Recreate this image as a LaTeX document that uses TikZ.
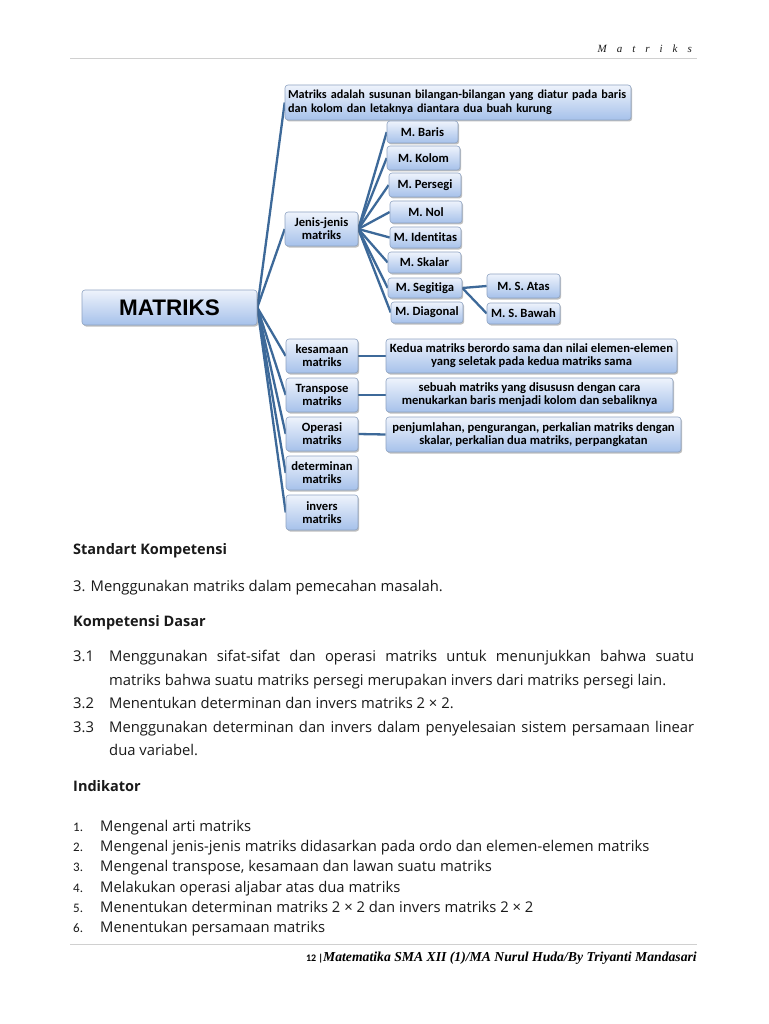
\documentclass[tikz,border=0pt]{standalone}
\usepackage{fontspec}
\setmainfont{Carlito}
\newfontfamily\calib[Ligatures=NoCommon]{Carlito}
\newfontfamily\bodyf{Open Sans}
\newfontfamily\arialf{Liberation Sans}
\newfontfamily\scriptf{Liberation Serif}
\usetikzlibrary{shadows,backgrounds}
\definecolor{boxtop}{HTML}{EEF3FC}
\definecolor{boxbot}{HTML}{A6C1EA}
\definecolor{boxline}{HTML}{8EA3C2}
\definecolor{linec}{HTML}{3D6999}
\definecolor{rulec}{HTML}{D0D0D0}
\definecolor{textc}{HTML}{1A1A1A}
\begin{document}
\begin{tikzpicture}[x=1pt,y=-1pt,
  mm/.style={draw=boxline, line width=0.6pt, rounded corners=3pt,
    top color=boxtop, bottom color=boxbot,
    drop shadow={shadow xshift=1.2pt, shadow yshift=-1.5pt, fill=black, opacity=0.25},
    inner sep=1pt, align=center, text=black,
    font=\calib\bfseries\fontsize{12.6}{13}\selectfont},
  conn/.style={draw=linec, line width=2.3pt},
  body/.style={inner sep=0pt, text=textc, font=\bodyf\fontsize{14.8}{16}\selectfont},
  hd/.style={body, font=\bodyf\bfseries\fontsize{14.5}{16}\selectfont}
]
\useasboundingbox (0,0) rectangle (768,1024);

% header and footer
\draw[rulec, line width=0.8pt] (70,58) -- (697,58);
\node[anchor=base east, inner sep=0pt, text=textc] (hdr) at (692,53)
  {\scriptf\itshape\fontsize{11}{12}\selectfont M\hspace{10pt}a\hspace{10pt}t\hspace{10pt}r\hspace{10pt}i\hspace{10pt}k\hspace{10pt}s};
\draw[rulec, line width=0.8pt] (70,944) -- (697,944);
\node[anchor=base east, inner sep=0pt] (foot) at (697,961)
  {{\calib\bfseries\fontsize{10}{11}\selectfont 12 |}{\scriptf\bfseries\itshape\fontsize{13.7}{15}\selectfont Matematika SMA XII (1)/MA Nurul Huda/By Triyanti Mandasari}};

% mind map
\node[mm, minimum width=175pt, minimum height=35pt, font=\arialf\bfseries\fontsize{22.5}{24}\selectfont] (matriks) at (169.5,307.5) {MATRIKS};
\node[mm, minimum width=346pt, minimum height=35pt, text width=340pt, align=left, inner sep=3pt,
  font=\calib\bfseries\fontsize{12.2}{13.5}\selectfont] (def) at (458,102.5)
  {\mbox{Matriks adalah susunan bilangan-bilangan yang diatur pada baris}\\\mbox{dan kolom dan letaknya diantara dua buah kurung}};
\node[mm, minimum width=73pt, minimum height=34pt] (jenis) at (321.5,229) {Jenis-jenis\\matriks};
\node[mm, minimum width=71pt, minimum height=22pt] (baris) at (422.5,132) {M. Baris};
\node[mm, minimum width=73pt, minimum height=24pt] (kolom) at (423.5,158) {M. Kolom};
\node[mm, minimum width=72pt, minimum height=24pt] (persegi) at (425,185) {M. Persegi};
\node[mm, minimum width=72pt, minimum height=22pt] (nol) at (426,212) {M. Nol};
\node[mm, minimum width=71pt, minimum height=21pt] (identitas) at (425.5,237.5) {M. Identitas};
\node[mm, minimum width=73pt, minimum height=21pt] (skalar) at (424.5,262.5) {M. Skalar};
\node[mm, minimum width=74pt, minimum height=20pt] (segitiga) at (425,288) {M. Segitiga};
\node[mm, minimum width=72pt, minimum height=21pt] (diagonal) at (427,312.5) {M. Diagonal};
\node[mm, minimum width=73pt, minimum height=24pt] (satas) at (523.5,286) {M. S. Atas};
\node[mm, minimum width=73pt, minimum height=21pt] (sbawah) at (523.5,313.5) {M. S. Bawah};
\node[mm, minimum width=72pt, minimum height=34pt] (kesamaan) at (322,356) {kesamaan\\matriks};
\node[mm, minimum width=72pt, minimum height=34pt] (transpose) at (322,395) {Transpose\\matriks};
\node[mm, minimum width=72pt, minimum height=34pt] (operasi) at (322,434) {Operasi\\matriks};
\node[mm, minimum width=72pt, minimum height=34pt] (determinan) at (322,473) {determinan\\matriks};
\node[mm, minimum width=72pt, minimum height=35pt] (invers) at (322,512.5) {invers\\matriks};
\node[mm, minimum width=291pt, minimum height=34pt] (kedua) at (531.5,356)
  {Kedua matriks berordo sama dan nilai elemen-elemen\\yang seletak pada kedua matriks sama};
\node[mm, minimum width=287pt, minimum height=34pt] (sebuah) at (529.5,395)
  {sebuah matriks yang disususn dengan cara\\menukarkan baris menjadi kolom dan sebaliknya};
\node[mm, minimum width=295pt, minimum height=35pt] (penjumlahan) at (533.5,434.5)
  {penjumlahan, pengurangan, perkalian matriks dengan\\skalar, perkalian dua matriks, perpangkatan};

\begin{scope}[on background layer]
  \fill[white] (0,0) rectangle (768,1024);
  \foreach \t in {def,jenis,kesamaan,transpose,operasi,determinan,invers}
    \draw[conn] (matriks.east) -- (\t.west);
  \foreach \t in {baris,kolom,persegi,nol,identitas,skalar,segitiga,diagonal}
    \draw[conn] (jenis.east) -- (\t.west);
  \draw[conn] (segitiga.east) -- (satas.west);
  \draw[conn] (segitiga.east) -- (sbawah.west);
  \draw[conn] (kesamaan.east) -- (kedua.west);
  \draw[conn] (transpose.east) -- (sebuah.west);
  \draw[conn] (operasi.east) -- (penjumlahan.west);
\end{scope}

% body text
\node[hd, anchor=base west] (sk) at (73,554) {Standart Kompetensi};
\node[body, anchor=base west] (sk1) at (73,591) {3. Menggunakan matriks dalam pemecahan masalah.};
\node[hd, anchor=base west] (kd) at (73,626) {Kompetensi Dasar};
\node[body, anchor=base west] (n31) at (73,661) {3.1};
\node[body, anchor=base west] (t31a) at (109,661) {\makebox[585pt][s]{Menggunakan sifat-sifat dan operasi matriks untuk menunjukkan bahwa suatu}};
\node[body, anchor=base west] (t31b) at (109,685) {matriks bahwa suatu matriks persegi merupakan invers dari matriks persegi lain.};
\node[body, anchor=base west] (n32) at (73,708) {3.2};
\node[body, anchor=base west] (t32) at (109,708) {Menentukan determinan dan invers matriks 2 × 2.};
\node[body, anchor=base west] (n33) at (73,732) {3.3};
\node[body, anchor=base west] (t33a) at (109,732) {\makebox[585pt][s]{Menggunakan determinan dan invers dalam penyelesaian sistem persamaan linear}};
\node[body, anchor=base west] (t33b) at (109,755) {dua variabel.};
\node[hd, anchor=base west] (ind) at (73,791) {Indikator};
\foreach \y/\n/\t in {831/1./Mengenal arti matriks,
  851/2./Mengenal jenis-jenis matriks didasarkan pada ordo dan elemen-elemen matriks,
  871/3./{Mengenal transpose, kesamaan dan lawan suatu matriks},
  892/4./Melakukan operasi aljabar atas dua matriks,
  912/5./Menentukan determinan matriks 2 × 2 dan invers matriks 2 × 2,
  932/6./Menentukan persamaan matriks} {
  \node[body, anchor=base west, font=\calib\fontsize{13}{15}\selectfont] (num\n) at (73,\y) {\n};
  \node[body, anchor=base west] (item\n) at (100,\y) {\t};
}
\end{tikzpicture}
\end{document}
